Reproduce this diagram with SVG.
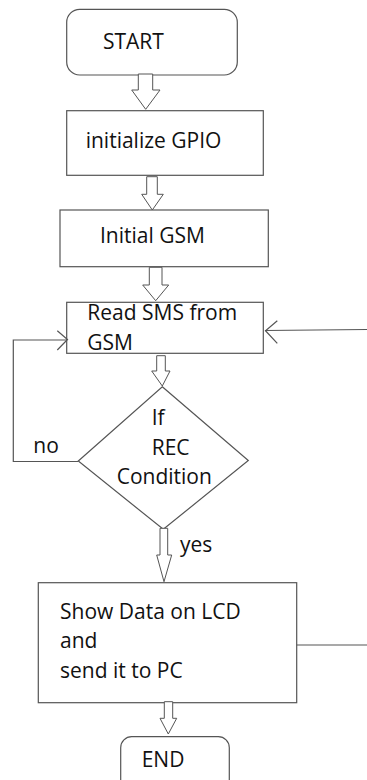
<svg xmlns="http://www.w3.org/2000/svg" width="367" height="780" viewBox="0 0 367 780">
<style>
.box{fill:#fff;stroke:#555;stroke-width:1.2}
.blk{fill:#fff;stroke:#555;stroke-width:1}
.ln{fill:none;stroke:#555;stroke-width:1.2}
text{font-family:"Open Sans","Noto Sans",sans-serif;font-size:21px;fill:#111}
</style>
<rect width="367" height="780" fill="#fff"/>
<g id="start"><rect class="box" x="66.7" y="9.3" width="170.6" height="65.7" rx="13"/><text x="103" y="49">START</text></g>
<g id="gpio"><rect class="box" x="66.7" y="110.7" width="196.6" height="64.6"/><text x="85.7" y="148.3">initialize GPIO</text></g>
<g id="gsm"><rect class="box" x="60" y="210" width="208.3" height="56.7"/><text x="100" y="243.3">Initial GSM</text></g>
<g id="read"><rect class="box" x="66.7" y="302.3" width="196.6" height="51"/><text x="87.3" y="320">Read SMS from</text><text x="87.3" y="350">GSM</text></g>
<g id="cond"><polygon class="box" points="162.3,386.7 248.3,460.5 163.3,529.3 78.3,461"/><text x="151.7" y="425">If</text><text x="151.7" y="455">REC</text><text x="116.7" y="484">Condition</text></g>
<g id="show"><rect class="box" x="38.3" y="582.7" width="258.4" height="120"/><text x="60" y="619.3">Show Data on LCD</text><text x="60" y="648.3">and</text><text x="60" y="678.3">send it to PC</text></g>
<g id="end"><rect class="box" x="120.7" y="736.7" width="108.6" height="60" rx="11"/><text x="141.7" y="766.7">END</text></g>
<g id="connectors">
<polygon class="blk" points="138.3,74 152.7,74 152.7,90 160,90 145.7,109.3 131.7,90 138.3,90"/>
<polygon class="blk" points="146.7,176.7 157.3,176.7 157.3,194.3 163.3,194.3 152.3,210 141.7,194.3 146.7,194.3"/>
<polygon class="blk" points="149.3,267.3 162,267.3 162,285 168.7,285 155.7,300.7 142.7,285 149.3,285"/>
<polygon class="blk" points="156.7,355.7 165.3,355.7 165.3,371 170,371 162.3,386 151.7,371 156.7,371"/>
<polygon class="blk" points="160,528.3 167.7,528.3 167.7,555 171.7,555 164,581.7 156.7,555 160,555"/>
<polygon class="blk" points="164.3,701.7 172.7,701.7 172.7,718.3 176.7,718.3 168.3,734 160,718.3 164.3,718.3"/>
<polyline class="ln" points="78.3,461.5 13.3,461.5 13.3,340 67,340"/>
<polyline class="ln" points="57.3,330.7 67.5,339.5 57.3,350"/>
<polyline class="ln" points="367,329.5 265,330.5"/>
<polyline class="ln" points="277.3,320.7 265.5,330.7 277.3,343.3"/>
<line class="ln" x1="296.7" y1="645" x2="367" y2="645"/>
<text x="33.3" y="453.3">no</text>
<text x="180" y="551.7">yes</text>
</g>
</svg>
